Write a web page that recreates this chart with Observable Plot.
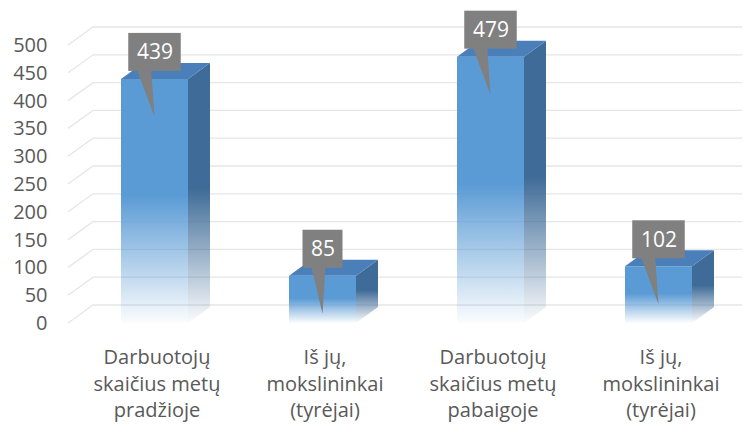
<!DOCTYPE html>
<html>
<head>
<meta charset="utf-8">
<script src="https://cdn.jsdelivr.net/npm/d3@7"></script>
<script src="https://cdn.jsdelivr.net/npm/@observablehq/plot@0.6"></script>
<style>
  html, body { margin: 0; padding: 0; background: #fff; }
  #chart { width: 756px; height: 424px; }
</style>
</head>
<body>
<div id="chart"></div>
<script>
// ---- data ----
const categories = [
  "Darbuotojų\nskaičius metų\npradžioje",
  "Iš jų,\nmokslininkai\n(tyrėjai)",
  "Darbuotojų\nskaičius metų\npabaigoje",
  "Iš jų,\nmokslininkai\n(tyrėjai)"
];
const values = [439, 85, 479, 102];
const yTicks = [0, 50, 100, 150, 200, 250, 300, 350, 400, 450, 500];

const rows = values.map((v, i) => ({key: i, value: v}));

// ---- style constants ----
const FRONT = "#5b9bd5", TOP = "#4a7fba", SIDE = "#3e6b97";
const DEPTH_X = 22, DEPTH_Y = -16;      // bar depth offset
const WALL_X = 25, WALL_Y = -18;        // back wall offset for grid
const GRID = "#e6e6e6";

function bw(scale) {
  const b = scale.bandwidth;
  return typeof b === "function" ? b() : b;
}

// gradient definitions
const defsMark = () => {
  const g = d3.create("svg:defs");
  const mk = (id, color) => {
    const lg = g.append("linearGradient").attr("id", id)
      .attr("x1", 0).attr("y1", 0).attr("x2", 0).attr("y2", 1);
    lg.append("stop").attr("offset", "0%").attr("stop-color", color);
    lg.append("stop").attr("offset", "48%").attr("stop-color", color);
    lg.append("stop").attr("offset", "100%").attr("stop-color", color).attr("stop-opacity", 0.02);
  };
  mk("frontGrad", FRONT);
  mk("sideGrad", SIDE);
  return g.node();
};

// 3D gridlines (floor slant + back wall)
const gridMark = (index, scales, values, dims) => {
  const g = d3.create("svg:g").attr("stroke", GRID).attr("stroke-width", 1.3).attr("fill", "none");
  const x0 = dims.marginLeft, x1 = dims.width - dims.marginRight - 4;
  for (const t of yTicks) {
    const y = scales.y(t);
    g.append("path").attr("d", `M${x0},${y}L${x0 + WALL_X},${y + WALL_Y}L${x1},${y + WALL_Y}`);
  }
  return g.node();
};

// side + top faces of 3D bars
const depthMark = (index, scales) => {
  const g = d3.create("svg:g");
  const w = bw(scales.x);
  for (const r of rows) {
    const xl = scales.x(r.key), xr = xl + w;
    const yt = scales.y(r.value), yb = scales.y(0);
    g.append("path").attr("fill", "url(#sideGrad)")
      .attr("d", `M${xr},${yt}L${xr + DEPTH_X},${yt + DEPTH_Y}L${xr + DEPTH_X},${yb + DEPTH_Y}L${xr},${yb}Z`);
    g.append("path").attr("fill", TOP)
      .attr("d", `M${xl},${yt}L${xl + DEPTH_X},${yt + DEPTH_Y}L${xr + DEPTH_X},${yt + DEPTH_Y}L${xr},${yt}Z`);
  }
  return g.node();
};

// callout boxes with pointers
const calloutMark = (index, scales) => {
  const g = d3.create("svg:g").attr("fill", "#808080");
  const w = bw(scales.x);
  for (const r of rows) {
    const cx = scales.x(r.key) + w / 2;
    const yt = scales.y(r.value);
    const bwid = String(r.value).length * 12.5 + 15;
    const left = cx - bwid / 2;
    g.append("rect").attr("x", left).attr("y", yt - 46).attr("width", bwid).attr("height", 38);
    g.append("path").attr("d", `M${left + 9},${yt - 8.5}L${left + 23},${yt - 8.5}L${cx},${yt + 38}Z`);
  }
  return g.node();
};

const chart = Plot.plot({
  width: 756,
  height: 424,
  marginLeft: 68,
  marginRight: 10,
  marginTop: 45,
  marginBottom: 101,
  style: {fontFamily: "'Open Sans', sans-serif", fontSize: "20px", color: "#595959", background: "#fff"},
  x: {domain: rows.map(d => d.key), paddingInner: 0.6, paddingOuter: 0.31, align: 0.5},
  y: {domain: [0, 500]},
  marks: [
    defsMark,
    gridMark,
    Plot.axisY({ticks: yTicks, tickSize: 0, tickPadding: 21, label: null, fontSize: 20}),
    Plot.axisX({tickSize: 0, tickPadding: 22, label: null, fontSize: 20, lineHeight: 1.32,
      tickFormat: i => categories[i], dx: 2}),
    Plot.barY(rows, {x: "key", y: "value", fill: "url(#frontGrad)"}),
    depthMark,
    calloutMark,
    Plot.text(rows, {x: "key", y: "value", text: d => String(d.value), dy: -27, fill: "white", fontSize: 21})
  ]
});
document.getElementById("chart").appendChild(chart);
</script>
</body>
</html>
